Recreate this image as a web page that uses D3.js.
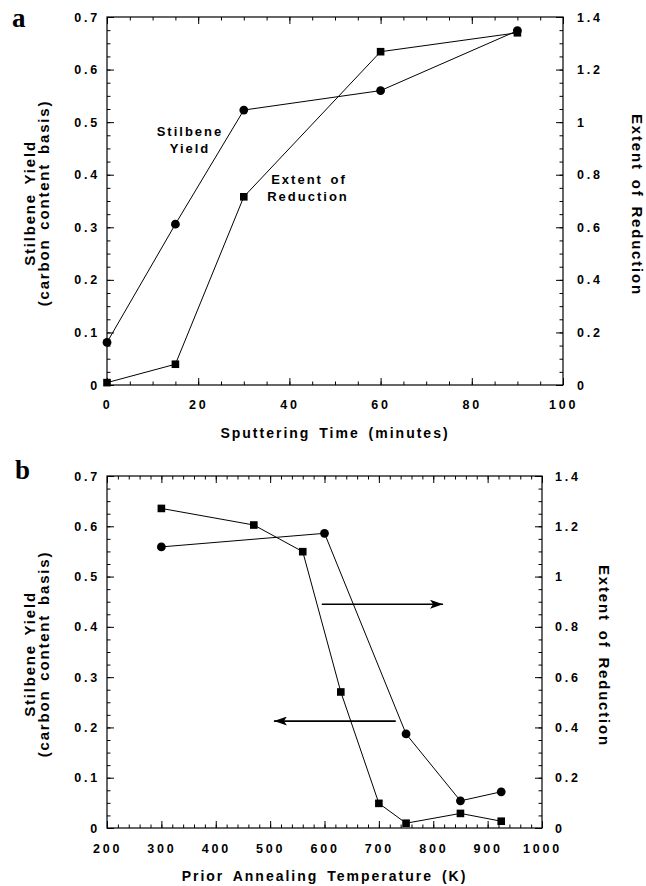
<!DOCTYPE html>
<html>
<head>
<meta charset="utf-8">
<script src="https://cdn.jsdelivr.net/npm/d3@7"></script>
<style>
	body { margin: 0; background: #fff; }
	svg { display: block; font-family: "Liberation Sans", Arial, sans-serif; }
	.tick text { font-size: 12.5px; font-weight: bold; letter-spacing: 2.8px; fill: #000; }
	.tick line { stroke: #000; stroke-width: 1; }
	.title { font-size: 14px; font-weight: bold; letter-spacing: 2px; word-spacing: 3px; }
	.title.side { font-size: 15px; letter-spacing: 1.8px; }
	.note { font-size: 13px; font-weight: bold; letter-spacing: 2px; word-spacing: 2px; }
	.panel-label { font-family: "Liberation Serif", "Times New Roman", serif; font-size: 27px; font-weight: bold; }
</style>
</head>
<body>
<script>
// panel a : sputtering time series
var sputterTime = [0, 15, 30, 60, 90];
var sputterYield = [0.081, 0.306, 0.523, 0.560, 0.674];
var sputterReduction = [0.009, 0.079, 0.716, 1.268, 1.340];

// panel b : annealing temperature series
var annealTempYield = [300, 600, 750, 850, 925];
var annealYield = [0.559, 0.586, 0.187, 0.054, 0.072];
var annealTempReduction = [300, 470, 560, 630, 700, 750, 850, 925];
var annealReduction = [1.271, 1.205, 1.099, 0.541, 0.098, 0.019, 0.058, 0.027];

// ticks
var yieldTicks = [0, 0.1, 0.2, 0.3, 0.4, 0.5, 0.6, 0.7];
var reductionTicks = [0, 0.2, 0.4, 0.6, 0.8, 1, 1.2, 1.4];
var timeTicks = [0, 20, 40, 60, 80, 100];
var tempTicks = [200, 300, 400, 500, 600, 700, 800, 900, 1000];

var svg = d3.select('body')
	.append('svg')
	.attr('width', 646)
	.attr('height', 886);

drawPanel({
	label: 'a', labelX: 12, labelY: 27,
	left: 107, top: 17, right: 563, bottom: 385,
	xDomain: [0, 100], xTicks: timeTicks, xMinorStep: 5,
	xPadding: 15, xTitle: 'Sputtering Time (minutes)', xTitleY: 438,
	rightTitleX: 632, rightPadding: 14,
	yieldX: sputterTime, yieldY: sputterYield,
	reductionX: sputterTime, reductionY: sputterReduction
});

var panelB = drawPanel({
	label: 'b', labelX: 15, labelY: 479,
	left: 107, top: 476, right: 542, bottom: 828,
	xDomain: [200, 1000], xTicks: tempTicks, xMinorStep: 20,
	xPadding: 16, xTitle: 'Prior Annealing Temperature (K)', xTitleY: 881,
	rightTitleX: 599, rightPadding: 13,
	yieldX: annealTempYield, yieldY: annealYield,
	reductionX: annealTempReduction, reductionY: annealReduction
});

// notes of panel a
var notes = [
	{ text: 'Stilbene', x: 190, y: 136 },
	{ text: 'Yield', x: 190, y: 153 },
	{ text: 'Extent of', x: 309, y: 184 },
	{ text: 'Reduction', x: 308, y: 201 }
];
svg.selectAll('text.note')
	.data(notes)
	.enter()
	.append('text')
	.classed('note', true)
	.attr('x', function (d) { return d.x; })
	.attr('y', function (d) { return d.y; })
	.attr('text-anchor', 'middle')
	.text(function (d) { return d.text; });

// arrows of panel b (which axis each curve belongs to)
var arrows = [
	{ from: 595, to: 818, level: 0.445 },
	{ from: 731, to: 507, level: 0.2127 }
];
svg.append('defs')
	.append('marker')
	.attr('id', 'head')
	.attr('viewBox', '0 0 13 9')
	.attr('refX', 13)
	.attr('refY', 4.5)
	.attr('markerWidth', 13)
	.attr('markerHeight', 9)
	.attr('markerUnits', 'userSpaceOnUse')
	.attr('orient', 'auto')
	.append('path')
	.attr('d', 'M0,0L13,4.5L0,9L3,4.5Z')
	.attr('fill', '#000');

svg.selectAll('line.arrow')
	.data(arrows)
	.enter()
	.append('line')
	.classed('arrow', true)
	.attr('x1', function (d) { return panelB.x(d.from); })
	.attr('x2', function (d) { return panelB.x(d.to); })
	.attr('y1', function (d) { return panelB.y(d.level); })
	.attr('y2', function (d) { return panelB.y(d.level); })
	.attr('stroke', '#000')
	.attr('stroke-width', 1.7)
	.attr('marker-end', 'url(#head)');

function minorValues(domain, step) {
	var values = [];
	for (var v = domain[0]; v <= domain[1] + 1e-9; v += step) {
		values.push(+v.toFixed(4));
	}
	return values;
}

function fmt(d) {
	return String(+d.toFixed(1));
}

function drawPanel(p) {
	var x = d3.scaleLinear().domain(p.xDomain).range([p.left, p.right]);
	var y = d3.scaleLinear().domain([0, 0.7]).range([p.bottom, p.top]);
	var y2 = d3.scaleLinear().domain([0, 1.4]).range([p.bottom, p.top]);
	var g = svg.append('g');

	var xMinor = minorValues(p.xDomain, p.xMinorStep);
	var yMinor = minorValues([0, 0.7], 0.025);
	var y2Minor = minorValues([0, 1.4], 0.05);

	// bottom
	g.append('g').attr('transform', 'translate(0,' + p.bottom + ')')
		.call(d3.axisBottom(x).tickValues(xMinor).tickSize(-3.5).tickFormat(''));
	g.append('g').attr('transform', 'translate(0,' + p.bottom + ')')
		.call(d3.axisBottom(x).tickValues(p.xTicks).tickSize(-7).tickPadding(p.xPadding).tickFormat(fmt));
	// top
	g.append('g').attr('transform', 'translate(0,' + p.top + ')')
		.call(d3.axisTop(x).tickValues(xMinor).tickSize(-3.5).tickFormat(''));
	g.append('g').attr('transform', 'translate(0,' + p.top + ')')
		.call(d3.axisTop(x).tickValues(p.xTicks).tickSize(-7).tickFormat(''));
	// left
	g.append('g').attr('transform', 'translate(' + p.left + ',0)')
		.call(d3.axisLeft(y).tickValues(yMinor).tickSize(-3.5).tickFormat(''));
	g.append('g').attr('transform', 'translate(' + p.left + ',0)')
		.call(d3.axisLeft(y).tickValues(yieldTicks).tickSize(-7).tickPadding(7).tickFormat(fmt));
	// right
	g.append('g').attr('transform', 'translate(' + p.right + ',0)')
		.call(d3.axisRight(y2).tickValues(y2Minor).tickSize(-3.5).tickFormat(''));
	g.append('g').attr('transform', 'translate(' + p.right + ',0)')
		.call(d3.axisRight(y2).tickValues(reductionTicks).tickSize(-7).tickPadding(p.rightPadding).tickFormat(fmt));

	g.selectAll('.domain').remove();
	g.selectAll('.tick text').attr('font-family', null).attr('font-size', null);

	g.append('rect')
		.attr('x', p.left)
		.attr('y', p.top)
		.attr('width', p.right - p.left)
		.attr('height', p.bottom - p.top)
		.attr('fill', 'none')
		.attr('stroke', '#000')
		.attr('stroke-width', 1.2);

	// titles
	g.append('text').classed('panel-label', true)
		.attr('x', p.labelX).attr('y', p.labelY).text(p.label);
	g.append('text').classed('title', true)
		.attr('x', (p.left + p.right) / 2).attr('y', p.xTitleY)
		.attr('text-anchor', 'middle').text(p.xTitle);
	var cy = (p.top + p.bottom) / 2 + 2;
	g.append('text').classed('title side', true)
		.attr('transform', 'translate(35,' + cy + ') rotate(-90)')
		.attr('text-anchor', 'middle').text('Stilbene Yield');
	g.append('text').classed('title side', true)
		.attr('transform', 'translate(49,' + cy + ') rotate(-90)')
		.attr('text-anchor', 'middle').text('(carbon content basis)');
	g.append('text').classed('title side', true)
		.attr('transform', 'translate(' + p.rightTitleX + ',' + (cy + 2) + ') rotate(90)')
		.attr('text-anchor', 'middle').text('Extent of Reduction');

	// series
	var yieldPts = p.yieldX.map(function (v, i) { return [v, p.yieldY[i]]; });
	var redPts = p.reductionX.map(function (v, i) { return [v, p.reductionY[i]]; });

	g.append('path')
		.datum(yieldPts)
		.attr('fill', 'none').attr('stroke', '#000').attr('stroke-width', 1)
		.attr('d', d3.line().x(function (d) { return x(d[0]); }).y(function (d) { return y(d[1]); }));
	g.append('path')
		.datum(redPts)
		.attr('fill', 'none').attr('stroke', '#000').attr('stroke-width', 1)
		.attr('d', d3.line().x(function (d) { return x(d[0]); }).y(function (d) { return y2(d[1]); }));

	g.selectAll('circle.pt')
		.data(yieldPts)
		.enter()
		.append('circle')
		.classed('pt', true)
		.attr('cx', function (d) { return x(d[0]); })
		.attr('cy', function (d) { return y(d[1]); })
		.attr('r', 4.4)
		.attr('fill', '#000');
	g.selectAll('rect.pt')
		.data(redPts)
		.enter()
		.append('rect')
		.classed('pt', true)
		.attr('x', function (d) { return x(d[0]) - 3.8; })
		.attr('y', function (d) { return y2(d[1]) - 3.8; })
		.attr('width', 7.6)
		.attr('height', 7.6)
		.attr('fill', '#000');

	return { x: x, y: y, y2: y2 };
}
</script>
</body>
</html>
